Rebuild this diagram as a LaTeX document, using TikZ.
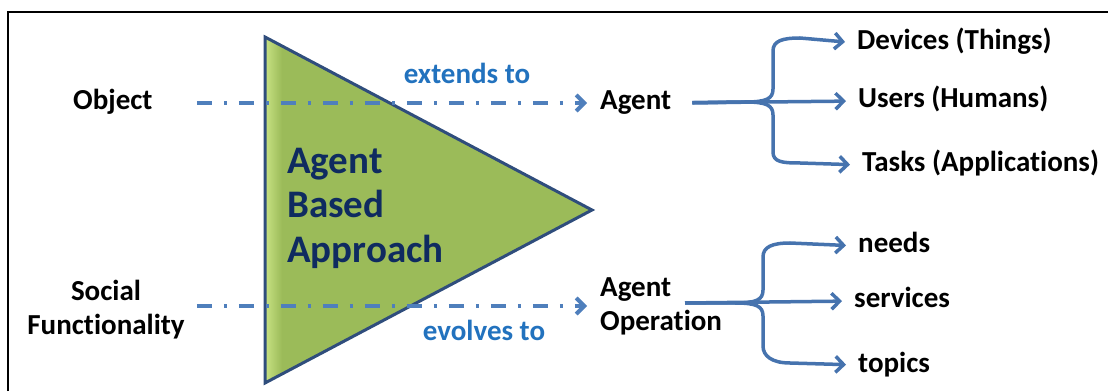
\documentclass[tikz,border=0pt]{standalone}
\usepackage{fontspec}
\setmainfont{Carlito}[Ligatures=NoCommon]
\usetikzlibrary{arrows.meta}

\definecolor{flowblue}{HTML}{4F7FBC}
\definecolor{forkblue}{HTML}{4673AE}
\definecolor{tagblue}{HTML}{2272BE}
\definecolor{abanavy}{HTML}{0F2B60}
\definecolor{abagreen}{HTML}{9BBB59}
\definecolor{abalight}{HTML}{C8E283}
\definecolor{abaedge}{HTML}{2F4D7C}

\begin{document}
\begin{tikzpicture}[x=1pt,y=1pt,
    lbl/.style={inner sep=0pt, font=\bfseries\fontsize{29}{34}\selectfont,
      text height=21pt, text depth=7pt},
    lbltwo/.style={inner sep=0pt, font=\bfseries\fontsize{29}{34}\selectfont},
    tag/.style={inner sep=0pt, anchor=base, text=tagblue,
      font=\bfseries\fontsize{29}{34}\selectfont},
    flow/.style={flowblue, line width=4pt,
      dash pattern=on 15pt off 12pt on 3pt off 12pt,
      -{Straight Barb[length=8pt,width=16pt]}},
    fork/.style={forkblue, line width=3.5pt, line join=round,
      -{Straight Barb[length=8pt,width=16pt]}, shorten >=12pt}]

      \useasboundingbox (0,0) rectangle (1108,391);

      %%% frame %%%
      \draw[line width=2pt] (8,0) -- (8,379) -- (1108,379);

      %%% the big triangle %%%
      \fill[abagreen] (265,354) -- (265,8) -- (592,181) -- cycle;
      \begin{scope}
        \clip (265,354) -- (265,8) -- (592,181) -- cycle;
        \shade[left color=abalight, right color=abagreen] (265,0) rectangle (282,360);
      \end{scope}
      \draw[abaedge, line width=3pt, line join=miter] (265,354) -- (265,8) -- (592,181) -- cycle;

      \node (aba) at (287,243) [anchor=north west, align=left, inner sep=0pt,
        text=abanavy, font=\bfseries\fontsize{39}{44.5}\selectfont]
        {Agent\\Based\\Approach};

      %%% left inputs and what they become %%%
      \node (obj) at (73,288) [lbl, anchor=west] {Object};
      \node (soc) at (106,81) [lbltwo, align=center] {Social\\Functionality};
      \node (ag) at (600,288) [lbl, anchor=west] {Agent};
      \node (agop) at (600,85) [lbltwo, anchor=west, align=left] {Agent\\Operation};

      \node (ext) at (467,307) [tag] {extends to};
      \node (evo) at (484,51) [tag] {evolves to};

      \draw[flow, shorten <=44pt, shorten >=13pt] (obj.east) -- (ag.west);
      \draw[flow, shorten <=12pt, shorten >=13pt] (soc.east |- agop.west) -- (agop.west);

      %%% leaves %%%
      \node (dev) at (857,348) [lbl, anchor=west] {Devices (Things)};
      \node (usr) at (858,290) [lbl, anchor=west] {Users (Humans)};
      \node (tsk) at (862,226) [lbl, anchor=west] {Tasks (Applications)};
      \node (nds) at (858,145) [lbl, anchor=west] {needs};
      \node (srv) at (854,90) [lbl, anchor=west] {services};
      \node (tpc) at (858,26) [lbl, anchor=west] {topics};

      % agent fork
      \draw[fork, shorten <=21pt]
      (ag.east) -- (745,289) .. controls (766,289) and (773,292) .. (773,302)
      -- (773,340) .. controls (773,350) and (782,353) .. (800,353) -- (dev.west);
      \draw[fork, shorten <=21pt] (ag.east) -- (usr.west);
      \draw[fork, shorten <=21pt]
      (ag.east) -- (745,289) .. controls (766,289) and (773,286) .. (773,276)
      -- (773,239) .. controls (773,229) and (782,228) .. (800,228) -- (tsk.west);

      % operation fork
      \coordinate (opfork) at (685,88);
      \draw[fork]
      (opfork) -- (735,88) .. controls (756,88) and (763,91) .. (763,101)
      -- (763,134) .. controls (763,144) and (772,148) .. (790,148) -- (nds.west);
      \draw[fork] (opfork) -- (srv.west);
      \draw[fork]
      (opfork) -- (735,88) .. controls (756,88) and (763,85) .. (763,75)
      -- (763,45) .. controls (763,35) and (772,28) .. (790,28) -- (tpc.west);

    \end{tikzpicture}
\end{document}
